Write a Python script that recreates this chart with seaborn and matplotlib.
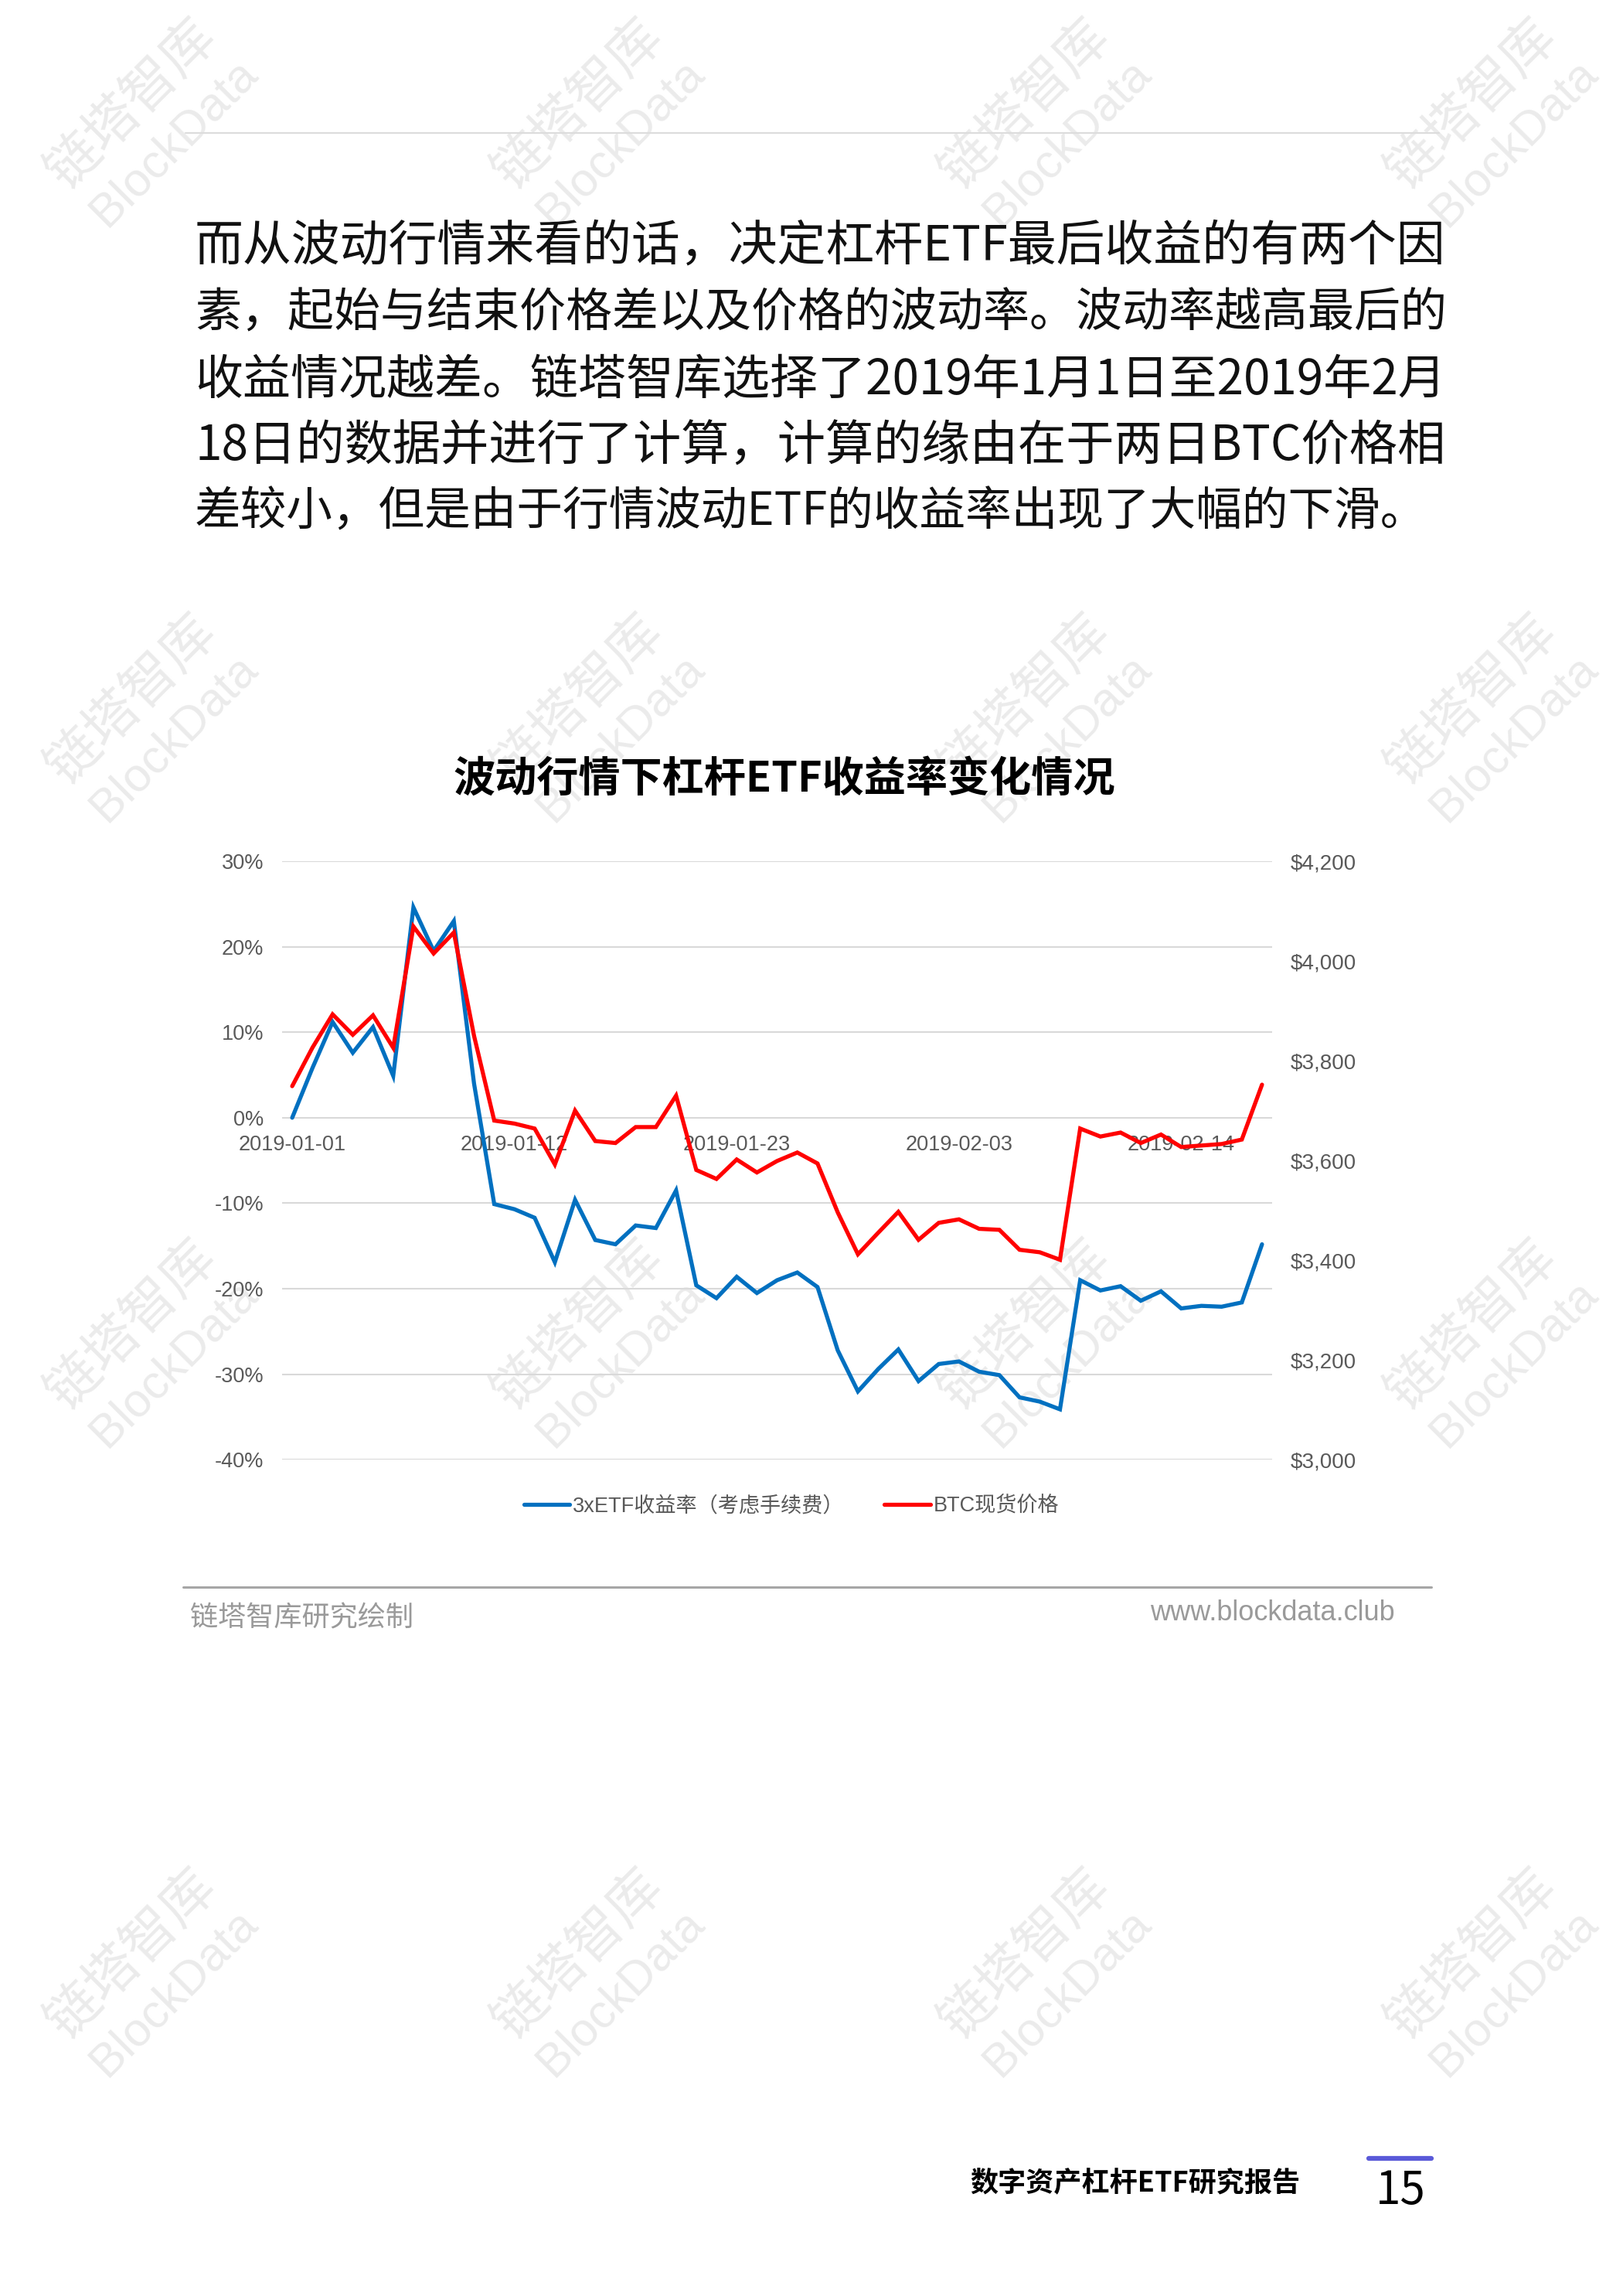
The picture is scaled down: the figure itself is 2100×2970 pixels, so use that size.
import matplotlib
matplotlib.use("Agg")
import matplotlib.pyplot as plt
import matplotlib.dates as mdates
from matplotlib.lines import Line2D
from matplotlib.ticker import FuncFormatter
import pandas as pd
import seaborn as sns

# 数据：2019-01-01 ~ 2019-02-18
dates = pd.date_range("2019-01-01", "2019-02-18", freq="D")
etf_return = [0.0, 5.8, 11.2, 7.6, 10.6, 4.9, 24.6, 19.5, 23.0, 4.0,
              -10.1, -10.7, -11.7, -16.9, -9.6, -14.3, -14.8, -12.6, -12.9, -8.5,
              -19.6, -21.1, -18.6, -20.5, -19.0, -18.1, -19.8, -27.2, -32.0, -29.4,
              -27.1, -30.8, -28.8, -28.5, -29.7, -30.1, -32.7, -33.2, -34.1, -19.0,
              -20.2, -19.7, -21.4, -20.3, -22.3, -22.0, -22.1, -21.6, -14.8]
btc_price = [3749, 3826, 3893, 3852, 3891, 3826, 4069, 4015, 4057, 3850,
             3680, 3674, 3664, 3592, 3700, 3639, 3635, 3667, 3667, 3730,
             3581, 3563, 3602, 3576, 3599, 3616, 3594, 3496, 3412, 3455,
             3497, 3441, 3475, 3482, 3463, 3461, 3421, 3416, 3401, 3664,
             3648, 3656, 3635, 3652, 3627, 3630, 3633, 3642, 3752]

pct_ticks = [30, 20, 10, 0, -10, -20, -30, -40]
usd_ticks = [4200, 4000, 3800, 3600, 3400, 3200, 3000]
label_etf = "3xETF收益率（考虑手续费）"
label_btc = "BTC现货价格"

paragraph = [
    "而从波动行情来看的话，决定杠杆ETF最后收益的有两个因",
    "素，起始与结束价格差以及价格的波动率。波动率越高最后的",
    "收益情况越差。链塔智库选择了2019年1月1日至2019年2月",
    "18日的数据并进行了计算，计算的缘由在于两日BTC价格相",
    "差较小，但是由于行情波动ETF的收益率出现了大幅的下滑。",
]

df = pd.DataFrame({"date": dates, "etf": etf_return, "btc": btc_price})

sns.set_theme(style="white")
plt.rcParams["font.family"] = ["Liberation Sans", "Noto Sans CJK SC", "DejaVu Sans"]

W, H = 2100, 2970
fig = plt.figure(figsize=(21, 29.7), dpi=100)
fig.patch.set_facecolor("white")
renderer = fig.canvas.get_renderer()

def fx(x):
    return x / W

def fy(y):
    return 1 - y / H

# 水印
wm_cols = [170, 748, 1326, 1904]
wm_rows = [135, 905, 1714, 2528]
for cx in wm_cols:
    for cy in wm_rows:
        fig.text(fx(cx), fy(cy), "链塔智库", rotation=45, fontsize=50,
                 color="#ebebeb", ha="center", va="center", zorder=-5,
                 family=["Noto Sans CJK SC"])
        fig.text(fx(cx + 55), fy(cy + 50), "BlockData", rotation=45, fontsize=44,
                 color="#ebebeb", ha="center", va="center", zorder=-5,
                 family=["Liberation Sans"])

# 顶部分隔线
fig.add_artist(Line2D([fx(240), fx(1862)], [fy(172), fy(172)], color="#dcdcdc", lw=1.5))

# 正文（每行按参考宽度调整字号）
line_y = [318, 405, 492, 578, 663]
line_right = [1871, 1871, 1871, 1871, 1847]
for txt, yy, xr in zip(paragraph, line_y, line_right):
    t = fig.text(fx(252), fy(yy), txt, fontsize=45, color="#111111", ha="left", va="center",
                 family=["Noto Sans CJK SC"])
    w = t.get_window_extent(renderer).width
    t.set_fontsize(45 * (xr - 252) / w)

# 图表标题
fig.text(fx(1015), fy(1008), "波动行情下杠杆ETF收益率变化情况", fontsize=39, fontweight="black",
         color="#000000", ha="center", va="center", family=["Noto Sans CJK SC"])

# 坐标轴
ax = fig.add_axes([fx(365), fy(1888.3), fx(1646 - 365), (1888.3 - 1114) / H])
ax.patch.set_alpha(0)
sns.lineplot(data=df, x="date", y="etf", ax=ax, color="#0070C0", linewidth=3.8,
             label=label_etf, legend=False)
for l in ax.lines:
    l.set_solid_capstyle("round")
    l.set_solid_joinstyle("miter")

ax2 = ax.twinx()
sns.lineplot(data=df, x="date", y="btc", ax=ax2, color="#FF0000", linewidth=3.8,
             label=label_btc, legend=False)
for l in ax2.lines:
    l.set_solid_capstyle("round")
    l.set_solid_joinstyle("miter")

ax.set_ylim(-40, 30)
ax.set_yticks(pct_ticks)
ax.yaxis.set_major_formatter(FuncFormatter(lambda v, p: f"{v:.0f}%"))
ax2.set_ylim(3000, 4200)
ax2.set_yticks(usd_ticks)
ax2.yaxis.set_major_formatter(FuncFormatter(lambda v, p: f"${v:,.0f}"))

half = pd.Timedelta(hours=12)
ax.set_xlim(dates[0] - half, dates[-1] + half)
ax.set_xticks(dates[::11])
ax.xaxis.set_major_formatter(mdates.DateFormatter("%Y-%m-%d"))

ax.grid(axis="y", color="#d9d9d9", linewidth=1.5)
ax.grid(axis="x", visible=False)
ax2.grid(False)
for a in (ax, ax2):
    for s in a.spines.values():
        s.set_visible(False)
    a.set_xlabel("")
    a.set_ylabel("")
ax.spines["bottom"].set_position(("data", 0))

ax.tick_params(axis="x", length=0, pad=16, labelsize=19.5, labelcolor="#595959")
ax.tick_params(axis="y", length=0, pad=17, labelsize=19.5, labelcolor="#595959")
ax2.tick_params(axis="y", length=0, pad=17, labelsize=20, labelcolor="#595959")

# 图例
handles = ax.lines[:1] + ax2.lines[:1]
fig.legend(handles, [label_etf, label_btc], loc="center", bbox_to_anchor=(fx(1024), fy(1948)),
           ncol=2, frameon=False, fontsize=19.5, labelcolor="#595959", handlelength=2.2,
           handletextpad=0.15, columnspacing=1.9)

# 底部分隔线及来源
fig.add_artist(Line2D([fx(237), fx(1852)], [fy(2053), fy(2053)], color="#a6a6a6", lw=2.2))
fig.text(fx(246), fy(2093), "链塔智库研究绘制", fontsize=26, color="#9a9a9a",
         ha="left", va="center", family=["Noto Sans CJK SC"])
fig.text(fx(1805), fy(2087), "www.blockdata.club", fontsize=26, color="#9a9a9a",
         ha="right", va="center", family=["Liberation Sans"])

# 页脚
fig.text(fx(1682), fy(2824), "数字资产杠杆ETF研究报告", fontsize=26, fontweight="bold",
         color="#000000", ha="right", va="center", family=["Noto Sans CJK SC"])
fig.add_artist(Line2D([fx(1771), fx(1852)], [fy(2792), fy(2792)], color="#5a5ad8", lw=4.5))
fig.text(fx(1812), fy(2835), "15", fontsize=42, color="#000000", ha="center", va="center",
         family=["Noto Sans CJK SC"])

fig.savefig("out.png", dpi=100, facecolor="white")
